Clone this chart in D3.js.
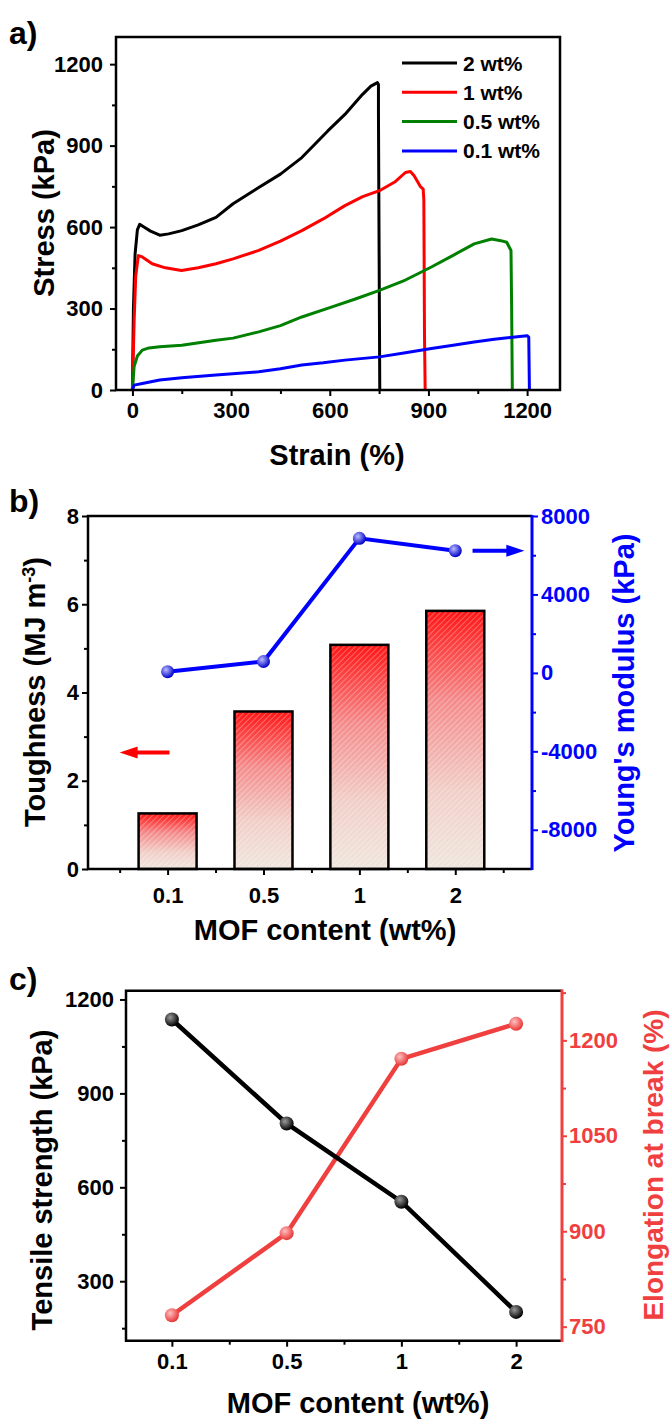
<!DOCTYPE html>
<html>
<head>
<meta charset="utf-8">
<script src="https://cdn.jsdelivr.net/npm/d3@7/dist/d3.min.js"></script>
<style>
body { margin: 0; background: #fff; }
svg { display: block; }
text { font-family: "Liberation Sans", Arial, sans-serif; font-weight: bold; }
</style>
</head>
<body>
<div id="chart"></div>
<script>
const width = 671;
const height = 1420;

// panel a - stress/strain curves, [strain %, stress kPa]
const curve2 = [[0,0],[3,300],[8,500],[15,590],[22,610],[35,600],[55,585],[83,570],[110,575],[150,587],[200,608],[254,636],[306,686],[384,746],[450,795],[515,856],[594,954],[646,1015],[699,1088],[725,1119],[745,1132],[748,1125],[748,1020],[752,0]];
const curve1 = [[0,0],[5,250],[10,420],[18,495],[30,490],[60,465],[100,450],[149,440],[200,450],[254,465],[306,483],[384,514],[450,548],[515,587],[580,630],[646,679],[700,712],[751,734],[800,768],[830,801],[845,805],[856,790],[868,765],[875,750],[884,740],[886,700],[888,200],[890,0]];
const curve05 = [[0,0],[5,86],[15,125],[30,147],[50,155],[83,159],[150,165],[254,183],[306,191],[384,214],[450,237],[515,269],[607,306],[680,336],[751,367],[830,405],[909,453],[975,496],[1039,538],[1092,556],[1120,550],[1138,544],[1151,514],[1153,300],[1155,0]];
const curve01 = [[0,0],[5,18],[30,24],[83,37],[150,45],[254,55],[384,67],[450,78],[515,92],[580,100],[646,110],[751,122],[830,137],[909,153],[975,165],[1039,177],[1100,187],[1170,196],[1200,200],[1205,195],[1207,0]];
const seriesNames = ["2 wt%", "1 wt%", "0.5 wt%", "0.1 wt%"];
const seriesColors = ["#000000", "#ff0000", "#008000", "#0000ff"];
const curves = [curve2, curve1, curve05, curve01];
const strainTicks = [0, 300, 600, 900, 1200];
const stressTicks = [0, 300, 600, 900, 1200];

// panel b
const mofLabels = ["0.1", "0.5", "1", "2"];
const toughness = [1.26, 3.57, 5.08, 5.85];
const modulus = [60, 580, 6860, 6230];
const toughTicks = [0, 2, 4, 6, 8];
const modTicks = [-8000, -4000, 0, 4000, 8000];

// panel c
const tensile = [1136, 804, 554, 202];
const elongation = [768, 897, 1171, 1226];
const tensileTicks = [300, 600, 900, 1200];
const elongTicks = [750, 900, 1050, 1200];

const svg = d3.select("#chart").append("svg").attr("width", width).attr("height", height);
svg.append("rect").attr("width", width).attr("height", height).attr("fill", "#fff");
const defs = svg.append("defs");
const plain = d => String(d);

// styling helper for axes
function styleAxis(g, color, size) {
	g.select(".domain").remove();
	g.selectAll("line").attr("stroke", color).attr("stroke-width", 2);
	g.selectAll("text").attr("fill", color).style("font-size", size || "22px");
}
function ball(id, light, dark) {
	let grad = defs.append("radialGradient").attr("id", id).attr("cx", "38%").attr("cy", "35%").attr("r", "65%");
	grad.append("stop").attr("offset", "0%").attr("stop-color", light);
	grad.append("stop").attr("offset", "100%").attr("stop-color", dark);
}
ball("ballBlue", "#b8bcff", "#0000c8");
ball("ballBlack", "#9a9a9a", "#000000");
ball("ballRed", "#ffc0c0", "#e83535");

let barGrad = defs.append("linearGradient").attr("id", "barGrad").attr("x1", 0).attr("y1", 0).attr("x2", 0).attr("y2", 1);
barGrad.append("stop").attr("offset", "0%").attr("stop-color", "#ff1515");
barGrad.append("stop").attr("offset", "35%").attr("stop-color", "#f48c8c");
barGrad.append("stop").attr("offset", "70%").attr("stop-color", "#f1cfc8");
barGrad.append("stop").attr("offset", "100%").attr("stop-color", "#efe6dd");
let hatch = defs.append("pattern").attr("id", "hatch").attr("patternUnits", "userSpaceOnUse").attr("width", 4).attr("height", 4).attr("patternTransform", "rotate(45)");
hatch.append("line").attr("x1", 0).attr("y1", 0).attr("x2", 0).attr("y2", 4).attr("stroke", "#fff").attr("stroke-width", 1.2).attr("stroke-opacity", 0.5);

function panelLabel(txt, x, y) {
	svg.append("text").attr("x", x).attr("y", y).style("font-size", "32px").text(txt);
}
function title(txt, x, y, rot, color, size) {
	let t = svg.append("text").attr("text-anchor", "middle").style("font-size", size || "29px").attr("fill", color || "#000")
		.attr("transform", "translate(" + x + "," + y + ")" + (rot ? " rotate(-90)" : ""));
	t.text(txt);
	return t;
}

// ---------- panel a ----------
const xA = d3.scaleLinear().domain([-50, 1300]).range([116, 560]);
const yA = d3.scaleLinear().domain([0, 1300]).range([390, 37]);

let line = d3.line().x(d => xA(d[0])).y(d => yA(d[1]));
curves.forEach((c, i) => {
	svg.append("path").datum(c).attr("d", line).attr("fill", "none").attr("stroke", seriesColors[i]).attr("stroke-width", 3).attr("stroke-linejoin", "round");
});

svg.append("g").attr("transform", "translate(116,0)").call(d3.axisLeft(yA).tickValues([150, 450, 750, 1050]).tickSize(4).tickFormat("")).call(g => styleAxis(g, "#000"));
svg.append("g").attr("transform", "translate(116,0)").call(d3.axisLeft(yA).tickValues(stressTicks).tickSize(6).tickPadding(7).tickFormat(plain)).call(g => styleAxis(g, "#000"));
svg.append("g").attr("transform", "translate(0,390)").call(d3.axisBottom(xA).tickValues([150, 450, 750, 1050]).tickSize(4).tickFormat("")).call(g => styleAxis(g, "#000"));
svg.append("g").attr("transform", "translate(0,390)").call(d3.axisBottom(xA).tickValues(strainTicks).tickSize(6).tickPadding(6).tickFormat(plain)).call(g => styleAxis(g, "#000"));
svg.append("rect").attr("x", 116).attr("y", 37).attr("width", 444).attr("height", 353).attr("fill", "none").attr("stroke", "#000").attr("stroke-width", 2.5);

let legend = svg.append("g");
seriesNames.forEach((n, i) => {
	let y = 63 + i * 29.3;
	legend.append("line").attr("x1", 402).attr("x2", 457).attr("y1", y).attr("y2", y).attr("stroke", seriesColors[i]).attr("stroke-width", 3);
	legend.append("text").attr("x", 463).attr("y", y + 7.5).style("font-size", "21px").text(n);
});

title("Strain (%)", 337, 465);
title("Stress (kPa)", 54, 213, true);
panelLabel("a)", 9, 44);

// ---------- panel b ----------
const xB = d3.scaleLinear().domain([0.17, 4.8]).range([88, 532]);
const yB = d3.scaleLinear().domain([0, 8]).range([869, 516]);
const yB2 = d3.scaleLinear().domain([-10000, 8000]).range([869, 516]);
const barW = 58;

let bars = svg.append("g");
toughness.forEach((v, i) => {
	let x = xB(i + 1) - barW / 2;
	bars.append("rect").attr("x", x).attr("y", yB(v)).attr("width", barW).attr("height", yB(0) - yB(v)).attr("fill", "url(#barGrad)");
	bars.append("rect").attr("x", x).attr("y", yB(v)).attr("width", barW).attr("height", yB(0) - yB(v)).attr("fill", "url(#hatch)").attr("stroke", "#000").attr("stroke-width", 2.5);
});

let modLine = d3.line().x((d, i) => xB(i + 1)).y(d => yB2(d));
svg.append("path").datum(modulus).attr("d", modLine).attr("fill", "none").attr("stroke", "#0000ff").attr("stroke-width", 4);
svg.selectAll(".mb").data(modulus).enter().append("circle").attr("cx", (d, i) => xB(i + 1)).attr("cy", d => yB2(d)).attr("r", 6.5).attr("fill", "url(#ballBlue)");

// arrows (pointing to each axis)
function arrow(x1, x2, y, color) {
	let dir = x2 > x1 ? 1 : -1;
	svg.append("line").attr("x1", x1).attr("x2", x2 - dir * 14).attr("y1", y).attr("y2", y).attr("stroke", color).attr("stroke-width", 4);
	svg.append("path").attr("d", `M${x2},${y} L${x2 - dir * 18},${y - 6} L${x2 - dir * 18},${y + 6} Z`).attr("fill", color);
}
arrow(xB(4.18), xB(4.72), yB2(modulus[3]), "#0000ff");
arrow(xB(1.02), xB(0.5), yB(2.64), "#ff0000");

svg.append("g").attr("transform", "translate(88,0)").call(d3.axisLeft(yB).tickValues([1, 3, 5, 7]).tickSize(4).tickFormat("")).call(g => styleAxis(g, "#000"));
svg.append("g").attr("transform", "translate(88,0)").call(d3.axisLeft(yB).tickValues(toughTicks).tickSize(6).tickPadding(3).tickFormat(plain)).call(g => styleAxis(g, "#000"));
svg.append("g").attr("transform", "translate(0,869)").call(d3.axisBottom(xB).tickValues([0.5, 1.5, 2.5, 3.5, 4.5]).tickSize(4).tickFormat("")).call(g => styleAxis(g, "#000"));
svg.append("g").attr("transform", "translate(0,869)").call(d3.axisBottom(xB).tickValues([1, 2, 3, 4]).tickSize(6).tickPadding(12).tickFormat((d, i) => mofLabels[i])).call(g => styleAxis(g, "#000"));
svg.append("g").attr("transform", "translate(532,0)").call(d3.axisRight(yB2).tickValues([-6000, -2000, 2000, 6000]).tickSize(4).tickFormat("")).call(g => styleAxis(g, "#0000ff"));
svg.append("g").attr("transform", "translate(532,0)").call(d3.axisRight(yB2).tickValues(modTicks).tickSize(6).tickPadding(3).tickFormat(plain)).call(g => styleAxis(g, "#0000ff"));
svg.append("path").attr("d", "M532,516 H88 V869 H532").attr("fill", "none").attr("stroke", "#000").attr("stroke-width", 2.5);
svg.append("line").attr("x1", 532).attr("x2", 532).attr("y1", 515).attr("y2", 870).attr("stroke", "#0000ff").attr("stroke-width", 3);

let tt = title("", 45, 692, true);
tt.append("tspan").text("Toughness (MJ m");
tt.append("tspan").attr("dy", -10).style("font-size", "18px").text("-3");
tt.append("tspan").attr("dy", 10).text(")");
title("Young's modulus (kPa)", 634, 693, true, "#0000ff");
title("MOF content (wt%)", 325, 940);
panelLabel("b)", 9, 512);

// ---------- panel c ----------
const xC = d3.scaleLinear().domain([0.6, 4.4]).range([126, 562]);
const yC = d3.scaleLinear().domain([110, 1228]).range([1340.7, 990.7]);
const yC2 = d3.scaleLinear().domain([728, 1278]).range([1340.7, 990.7]);
const redC = "#ef3f3f";

svg.append("path").datum(elongation).attr("d", d3.line().x((d, i) => xC(i + 1)).y(d => yC2(d))).attr("fill", "none").attr("stroke", redC).attr("stroke-width", 4.5);
svg.append("path").datum(tensile).attr("d", d3.line().x((d, i) => xC(i + 1)).y(d => yC(d))).attr("fill", "none").attr("stroke", "#000").attr("stroke-width", 4.5);
svg.selectAll(".mr").data(elongation).enter().append("circle").attr("cx", (d, i) => xC(i + 1)).attr("cy", d => yC2(d)).attr("r", 7).attr("fill", "url(#ballRed)");
svg.selectAll(".mk").data(tensile).enter().append("circle").attr("cx", (d, i) => xC(i + 1)).attr("cy", d => yC(d)).attr("r", 7).attr("fill", "url(#ballBlack)");

svg.append("g").attr("transform", "translate(126,0)").call(d3.axisLeft(yC).tickValues([150, 450, 750, 1050]).tickSize(4).tickFormat("")).call(g => styleAxis(g, "#000"));
svg.append("g").attr("transform", "translate(126,0)").call(d3.axisLeft(yC).tickValues(tensileTicks).tickSize(6).tickPadding(6).tickFormat(plain)).call(g => styleAxis(g, "#000"));
svg.append("g").attr("transform", "translate(0,1340.7)").call(d3.axisBottom(xC).tickValues([1.5, 2.5, 3.5]).tickSize(4).tickFormat("")).call(g => styleAxis(g, "#000"));
svg.append("g").attr("transform", "translate(0,1340.7)").call(d3.axisBottom(xC).tickValues([1, 2, 3, 4]).tickSize(6).tickPadding(7).tickFormat((d, i) => mofLabels[i])).call(g => styleAxis(g, "#000"));
svg.append("g").attr("transform", "translate(562,0)").call(d3.axisRight(yC2).tickValues([825, 975, 1125, 1275]).tickSize(4).tickFormat("")).call(g => styleAxis(g, redC));
svg.append("g").attr("transform", "translate(562,0)").call(d3.axisRight(yC2).tickValues(elongTicks).tickSize(5).tickPadding(2).tickFormat(plain)).call(g => styleAxis(g, redC));
svg.append("path").attr("d", "M562,990.7 H126 V1340.7 H562").attr("fill", "none").attr("stroke", "#000").attr("stroke-width", 2.5);
svg.append("line").attr("x1", 562).attr("x2", 562).attr("y1", 989.5).attr("y2", 1342).attr("stroke", redC).attr("stroke-width", 3);

title("Tensile strength (kPa)", 52, 1180, true);
title("Elongation at break (%)", 663, 1165, true, redC, "28px");
title("MOF content (wt%)", 358, 1413);
panelLabel("c)", 9, 990);
</script>
</body>
</html>
